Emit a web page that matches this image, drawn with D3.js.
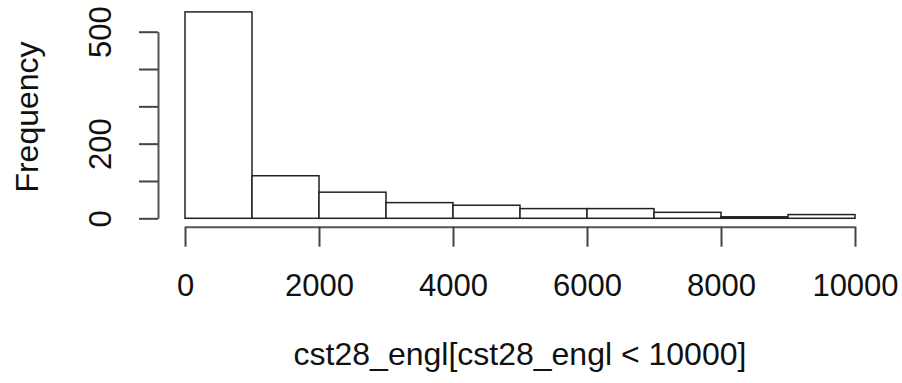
<!DOCTYPE html>
<html lang="en">
<head>
<meta charset="UTF-8">
<title>Histogram</title>
<script src="https://d3js.org/d3.v7.min.js"></script>
<style>
  body { margin: 0; background: #fff; }
  svg text { font-family: "Liberation Sans", Arial, sans-serif; fill: #111; }
</style>
</head>
<body>
<div id="chart"></div>
<script>
// bin edges and counts
const binStarts = [0, 1000, 2000, 3000, 4000, 5000, 6000, 7000, 8000, 9000];
const binWidth = 1000;
const counts = [553, 114, 70, 42, 35, 26, 26, 16, 4, 10];
const xTicks = [0, 2000, 4000, 6000, 8000, 10000];
const yTicks = [0, 100, 200, 300, 400, 500];
const yLabels = [0, 200, 500];

const W = 902, H = 383;

const svg = d3.select("#chart").append("svg")
  .attr("width", W)
  .attr("height", H);

const x = d3.scaleLinear().domain([0, 10000]).range([185, 855]);
const y = d3.scaleLinear().domain([0, 500]).range([218.3, 31.7]);

// bars
svg.selectAll("rect.bar")
  .data(binStarts)
  .enter()
  .append("rect")
  .attr("class", "bar")
  .attr("x", d => x(d))
  .attr("y", (d, i) => y(counts[i]))
  .attr("width", d => x(d + binWidth) - x(d))
  .attr("height", (d, i) => y(0) - y(counts[i]))
  .attr("fill", "#fff")
  .attr("stroke", "#222")
  .attr("stroke-width", 1.5);

// x axis
const xAxis = svg.append("g")
  .attr("transform", "translate(0,226.7)")
  .call(d3.axisBottom(x).tickValues(xTicks).tickSize(20).tickSizeOuter(0).tickFormat(d3.format("d")));
xAxis.select(".domain").attr("stroke", "#555").attr("stroke-width", 2);
xAxis.selectAll(".tick line").attr("stroke", "#444").attr("stroke-width", 2);
xAxis.selectAll(".tick text")
  .style("font-size", "31px")
  .attr("dy", "0.36em")
  .attr("y", 58);

// y axis
const yAxis = svg.append("g")
  .attr("transform", "translate(158,0)")
  .call(d3.axisLeft(y).tickValues(yTicks).tickSize(19).tickSizeOuter(0)
    .tickFormat(d => yLabels.includes(d) ? d : ""));
yAxis.select(".domain").attr("stroke", "#555").attr("stroke-width", 2);
yAxis.selectAll(".tick line").attr("stroke", "#444").attr("stroke-width", 2);
yAxis.selectAll(".tick text")
  .style("font-size", "31px")
  .attr("text-anchor", "middle")
  .attr("x", 0)
  .attr("dy", "0.36em")
  .attr("transform", "translate(-58,0) rotate(-90)");

// titles
svg.append("text")
  .attr("x", (x(0) + x(10000)) / 2)
  .attr("y", 353)
  .attr("dy", "0.36em")
  .attr("text-anchor", "middle")
  .style("font-size", "32px")
  .text("cst28_engl[cst28_engl < 10000]");

svg.append("text")
  .attr("transform", "translate(26,117) rotate(-90)")
  .attr("dy", "0.36em")
  .attr("text-anchor", "middle")
  .style("font-size", "32px")
  .text("Frequency");
</script>
</body>
</html>
